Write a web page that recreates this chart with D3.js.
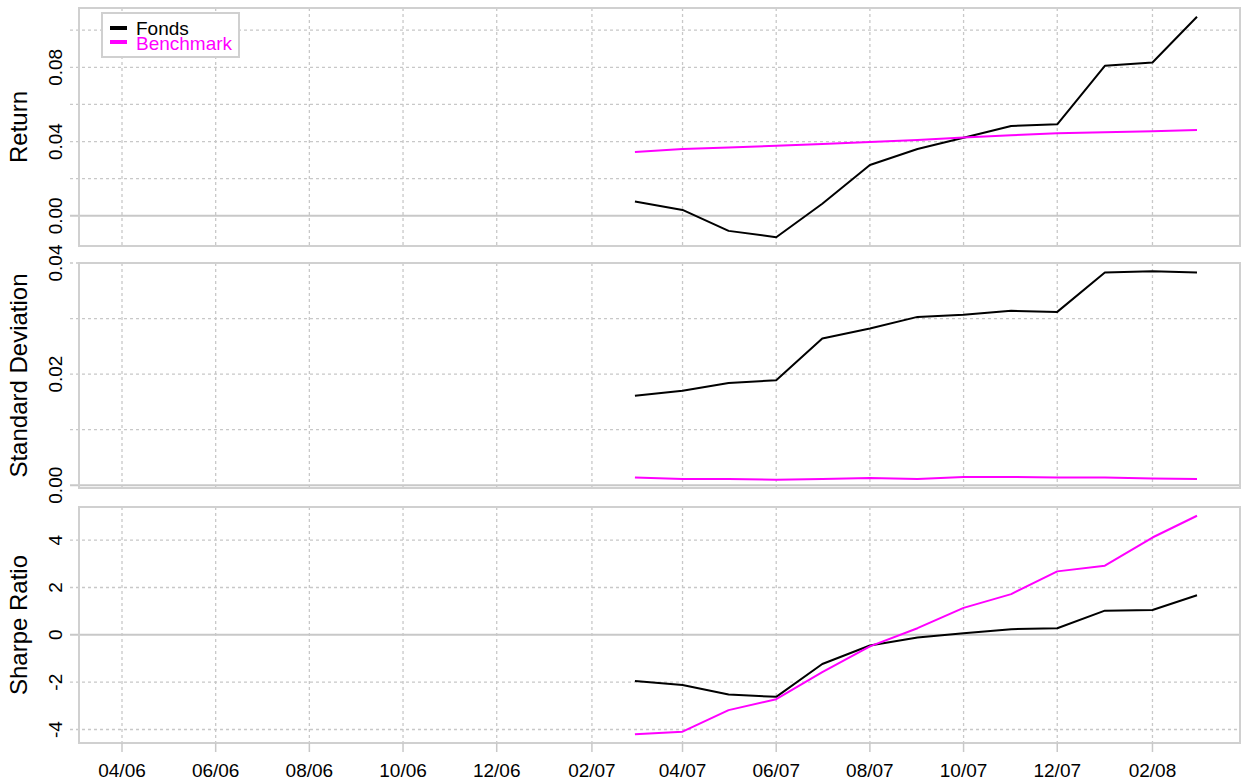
<!DOCTYPE html>
<html>
<head>
<meta charset="utf-8">
<script src="https://cdn.jsdelivr.net/npm/d3@7"></script>
<style>
  body { margin: 0; background: #fff; }
  svg { display: block; font-family: "Liberation Sans", Arial, Helvetica, sans-serif; }
</style>
</head>
<body>
<div id="chart"></div>
<script>
// monthly observations (the first year of the window has no values)
const windowStart = "2006-04-01";
const dates = ["2007-03-01", "2007-04-01", "2007-05-01", "2007-06-01", "2007-07-01",
  "2007-08-01", "2007-09-01", "2007-10-01", "2007-11-01", "2007-12-01",
  "2008-01-01", "2008-02-01", "2008-03-01"];

const returnFonds = [0.0077, 0.0032, -0.0081, -0.0115, 0.0065, 0.0274, 0.0360,
  0.0421, 0.0484, 0.0493, 0.0808, 0.0826, 0.1072];
const returnBench = [0.0344, 0.0360, 0.0368, 0.0377, 0.0387, 0.0398, 0.0408,
  0.0422, 0.0434, 0.0445, 0.0450, 0.0456, 0.0462];

const sdFonds = [0.0161, 0.0170, 0.0184, 0.0189, 0.0264, 0.0282, 0.0303,
  0.0307, 0.0314, 0.0312, 0.0383, 0.0385, 0.0383];
const sdBench = [0.0014, 0.0011, 0.0011, 0.0010, 0.0011, 0.0013, 0.0011,
  0.0015, 0.0015, 0.0014, 0.0014, 0.0012, 0.0011];

const sharpeFonds = [-1.95, -2.12, -2.52, -2.62, -1.23, -0.45, -0.11,
  0.07, 0.24, 0.28, 1.02, 1.05, 1.67];
const sharpeBench = [-4.20, -4.09, -3.18, -2.72, -1.58, -0.49, 0.28,
  1.14, 1.72, 2.68, 2.92, 4.11, 5.03];

const seriesNames = ["Fonds", "Benchmark"];
const seriesColors = ["#000000", "#ff00ff"];

const returnTicks = [0, 0.02, 0.04, 0.06, 0.08, 0.10];
const returnLabels = [0, 0.04, 0.08];
const sdTicks = [0, 0.01, 0.02, 0.03, 0.04];
const sdLabels = [0, 0.02, 0.04];
const sharpeTicks = [-4, -2, 0, 2, 4];
const sharpeLabels = [-4, -2, 0, 2, 4];

const width = 1242;
const height = 783;
const marginLeft = 79;
const marginRight = 2;
const gridColor = "#c8c8c8";
const frameColor = "#d0d0d0";

const parse = d3.timeParse("%Y-%m-%d");
const xDates = dates.map(parse);
const loc = d3.formatLocale({ decimal: ".", thousands: ",", grouping: [3], currency: ["", ""], minus: "-" });

// R style 4% padding on both ends
function padded(lo, hi) {
  const pad = (hi - lo) * 0.04;
  return [lo - pad, hi + pad];
}

const t0 = +parse(windowStart);
const t1 = +xDates[xDates.length - 1];
const xDom = padded(t0, t1);

const x = d3.scaleTime()
  .domain([new Date(xDom[0]), new Date(xDom[1])])
  .range([marginLeft, width - marginRight]);

// every second month from the window start
const xTicks = d3.timeMonth.range(parse(windowStart), xDates[xDates.length - 1], 2);

const panels = [
  { title: "Return", top: 8, bottom: 246, a: returnFonds, b: returnBench,
    ticks: returnTicks, labels: returnLabels, fmt: loc.format(".2f"), legend: true },
  { title: "Standard Deviation", top: 263, bottom: 488, a: sdFonds, b: sdBench,
    ticks: sdTicks, labels: sdLabels, fmt: loc.format(".2f") },
  { title: "Sharpe Ratio", top: 507, bottom: 743, a: sharpeFonds, b: sharpeBench,
    ticks: sharpeTicks, labels: sharpeLabels, fmt: loc.format("d") }
];

const svg = d3.select("#chart")
  .append("svg")
  .attr("width", width)
  .attr("height", height)
  .attr("viewBox", [0, 0, width, height]);

panels.forEach(function (p) {
  const all = p.a.concat(p.b);
  const y = d3.scaleLinear()
    .domain(padded(d3.min(all), d3.max(all)))
    .range([p.bottom, p.top]);

  const g = svg.append("g");

  // vertical grid
  g.selectAll(".vgrid")
    .data(xTicks)
    .join("line")
    .attr("x1", (d) => x(d)).attr("x2", (d) => x(d))
    .attr("y1", p.top).attr("y2", p.bottom)
    .attr("stroke", gridColor)
    .attr("stroke-width", 1.3)
    .attr("stroke-dasharray", "3,3");

  // horizontal grid + left tick marks
  g.selectAll(".hgrid")
    .data(p.ticks)
    .join("line")
    .attr("x1", marginLeft - 9).attr("x2", width - marginRight)
    .attr("y1", (d) => y(d)).attr("y2", (d) => y(d))
    .attr("stroke", gridColor)
    .attr("stroke-width", (d) => (d === 0 ? 2 : 1.3))
    .attr("stroke-dasharray", (d) => (d === 0 ? null : "3,3"));

  g.selectAll(".ticklab")
    .data(p.labels)
    .join("text")
    .attr("transform", (d) => `translate(62,${y(d)}) rotate(-90)`)
    .attr("text-anchor", "middle")
    .attr("font-size", 19)
    .attr("fill", "#000")
    .text((d) => p.fmt(d));

  g.append("text")
    .attr("transform", `translate(27,${(p.top + p.bottom) / 2}) rotate(-90)`)
    .attr("text-anchor", "middle")
    .attr("font-size", 24)
    .attr("fill", "#000")
    .text(p.title);

  g.append("rect")
    .attr("x", marginLeft).attr("y", p.top)
    .attr("width", width - marginRight - marginLeft)
    .attr("height", p.bottom - p.top)
    .attr("fill", "none")
    .attr("stroke", frameColor)
    .attr("stroke-width", 2);

  const line = d3.line()
    .x((d, i) => x(xDates[i]))
    .y((d) => y(d));

  [p.a, p.b].forEach(function (vals, k) {
    g.append("path")
      .datum(vals)
      .attr("d", line)
      .attr("fill", "none")
      .attr("stroke", seriesColors[k])
      .attr("stroke-width", 2)
      .attr("stroke-linejoin", "round");
  });

  if (p.legend) {
    const lg = g.append("g");
    lg.append("rect")
      .attr("x", 102).attr("y", 13)
      .attr("width", 137).attr("height", 44)
      .attr("fill", "#fff")
      .attr("stroke", frameColor)
      .attr("stroke-width", 2);
    seriesNames.forEach(function (name, k) {
      lg.append("line")
        .attr("x1", 110).attr("x2", 127)
        .attr("y1", 28 + k * 14).attr("y2", 28 + k * 14)
        .attr("stroke", seriesColors[k])
        .attr("stroke-width", 4);
      lg.append("text")
        .attr("x", 136).attr("y", 35 + k * 15)
        .attr("font-size", 19)
        .attr("fill", seriesColors[k])
        .text(name);
    });
  }
});

// bottom time axis
const last = panels[panels.length - 1];
svg.selectAll(".xtick")
  .data(xTicks)
  .join("line")
  .attr("x1", (d) => x(d)).attr("x2", (d) => x(d))
  .attr("y1", last.bottom).attr("y2", last.bottom + 9)
  .attr("stroke", gridColor)
  .attr("stroke-width", 1.5);

svg.selectAll(".xlab")
  .data(xTicks)
  .join("text")
  .attr("x", (d) => x(d))
  .attr("y", 777)
  .attr("text-anchor", "middle")
  .attr("font-size", 19)
  .attr("fill", "#000")
  .text(d3.timeFormat("%m/%y"));
</script>
</body>
</html>
